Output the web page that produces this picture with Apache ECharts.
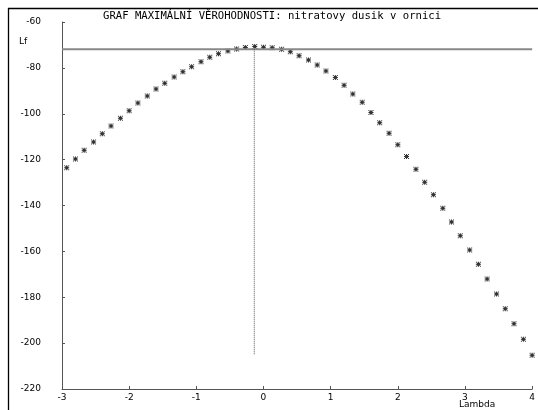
<!DOCTYPE html>
<html>
<head>
<meta charset="utf-8">
<script src="https://cdn.jsdelivr.net/npm/echarts@6/dist/echarts.min.js"></script>
<style>
  html, body { margin: 0; padding: 0; background: #fff; }
  #chart { width: 538px; height: 410px; }
</style>
</head>
<body>
<div id="chart"></div>
<script>
// Box-Cox profile log-likelihood Lf(lambda)
var lambdaValues = [
  -2.93, -2.80, -2.67, -2.53, -2.40, -2.27, -2.13, -2.00, -1.87, -1.73,
  -1.60, -1.47, -1.33, -1.20, -1.07, -0.93, -0.80, -0.67, -0.53, -0.40,
  -0.27, -0.13, 0.00, 0.13, 0.27, 0.40, 0.53, 0.67, 0.80, 0.93,
  1.07, 1.20, 1.33, 1.47, 1.60, 1.73, 1.87, 2.00, 2.13, 2.27,
  2.40, 2.53, 2.67, 2.80, 2.93, 3.07, 3.20, 3.33, 3.47, 3.60,
  3.73, 3.87, 4.00
];
var lfValues = [
  -123.5, -119.7, -115.9, -112.3, -108.7, -105.3, -102.0, -98.7, -95.3, -92.3,
  -89.2, -86.7, -84.0, -81.7, -79.5, -77.3, -75.4, -73.8, -72.6, -71.8,
  -71.1, -70.7, -71.0, -71.2, -71.9, -73.0, -74.7, -76.6, -78.7, -81.4,
  -84.2, -87.6, -91.4, -95.0, -99.5, -103.9, -108.5, -113.5, -118.6, -124.2,
  -129.9, -135.3, -141.2, -147.2, -153.2, -159.4, -165.6, -172.0, -178.6, -185.0,
  -191.5, -198.3, -205.3
];
var maxLf = -71.9;        // maximum of the likelihood
var lambdaHat = -0.137;   // lambda at the maximum
var lfFloor = -205;       // lower end of the marker line

var titleText = 'GRAF MAXIMÁLNÍ VĚROHODNOSTI: nitratovy dusik v ornici';
var yName = 'Lf';
var xName = 'Lambda';

var points = lambdaValues.map(function (l, i) { return [l, lfValues[i]]; });

// small pixel asterisk
var asterisk = 'path://M0,0h1v1h-1z M2,0h1v1h-1z M4,0h1v1h-1z M1,1h3v1h-3z M0,2h5v1h-5z M1,3h3v1h-3z M0,4h1v1h-1z M2,4h1v1h-1z M4,4h1v1h-1z';

var labelFont = { fontFamily: 'DejaVu Sans', fontSize: 9, color: '#000' };

var chart = echarts.init(document.getElementById('chart'), null, { renderer: 'canvas' });
chart.setOption({
  animation: false,
  backgroundColor: '#fff',
  title: {
    text: titleText,
    left: 103, top: 11, padding: 0,
    textStyle: { fontFamily: 'DejaVu Sans Mono', fontSize: 10.6, fontWeight: 'normal', color: '#000' }
  },
  grid: { left: 62, right: 5, top: 22, bottom: 21, containLabel: false },
  xAxis: {
    type: 'value', min: -3, max: 4, interval: 1,
    axisLine: { show: true, onZero: false, lineStyle: { color: '#555', width: 1 } },
    axisTick: { show: true, inside: true, length: 3, lineStyle: { color: '#555' } },
    axisLabel: Object.assign({ margin: 4 }, labelFont),
    splitLine: { show: false }
  },
  yAxis: {
    type: 'value', min: -220, max: -60, interval: 20,
    axisLine: { show: true, onZero: false, lineStyle: { color: '#555', width: 1 } },
    axisTick: { show: true, inside: true, length: 3, lineStyle: { color: '#555' } },
    axisLabel: Object.assign({ margin: 21 }, labelFont),
    splitLine: { show: false }
  },
  graphic: [
    { type: 'line', shape: { x1: 8, y1: 8.5, x2: 538, y2: 8.5 }, style: { stroke: '#000', lineWidth: 1.3 } },
    { type: 'line', shape: { x1: 8.5, y1: 8, x2: 8.5, y2: 410 }, style: { stroke: '#000', lineWidth: 1.3 } },
    { type: 'text', left: 19, top: 37, style: { text: yName, font: '9px "DejaVu Sans"', fill: '#000' } },
    { type: 'text', left: 459, top: 400, style: { text: xName, font: '9px "DejaVu Sans"', fill: '#000' } }
  ],
  series: [
    {
      type: 'line', data: [[-3, maxLf], [4, maxLf]],
      symbol: 'none', silent: true,
      lineStyle: { color: '#888', width: 2 }
    },
    {
      type: 'line', data: [[lambdaHat, maxLf], [lambdaHat, lfFloor]],
      symbol: 'none', silent: true,
      lineStyle: { color: '#555', width: 1, type: [1, 1] }
    },
    {
      type: 'scatter', data: points,
      symbol: asterisk, symbolSize: 5,
      itemStyle: { color: '#000' }
    }
  ]
});
</script>
</body>
</html>
